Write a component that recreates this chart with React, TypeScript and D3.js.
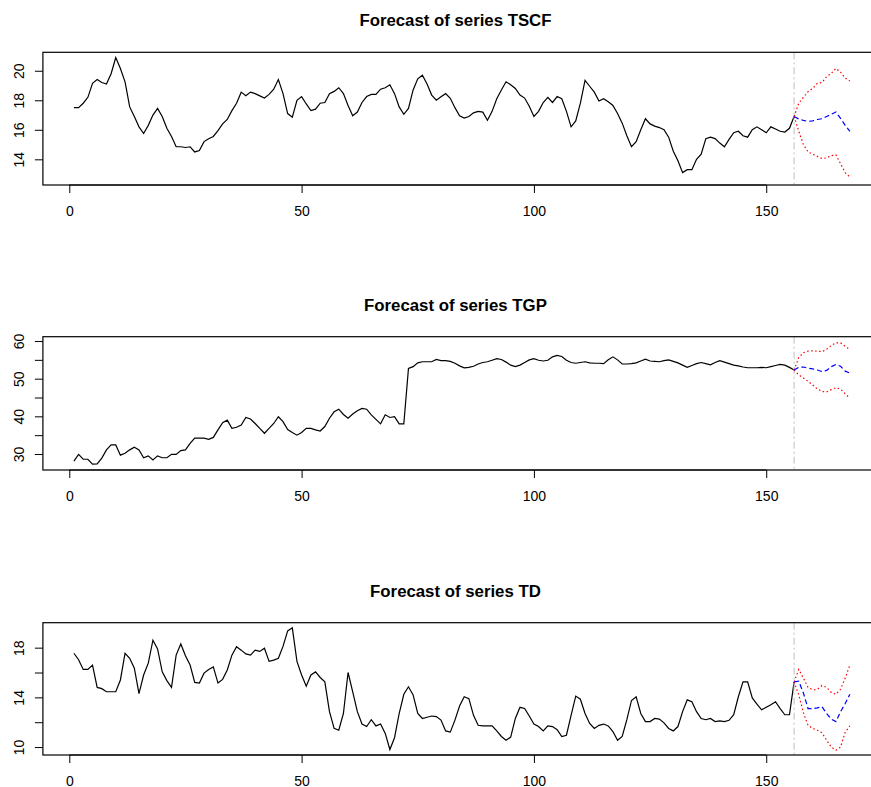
import React, { Component } from 'react';
import * as d3 from 'd3';

// observed series, t = 1..156
const tscf = [
  17.5, 17.5, 17.8, 18.2, 19.15, 19.4, 19.2, 19.1, 19.8, 20.9,
  20.15, 19.25, 17.55, 16.9, 16.2, 15.75, 16.3, 17.0, 17.45, 16.9,
  16.1, 15.55, 14.85, 14.85, 14.8, 14.85, 14.5, 14.6, 15.2, 15.4,
  15.55, 15.95, 16.4, 16.7, 17.3, 17.8, 18.55, 18.3, 18.55, 18.45,
  18.3, 18.15, 18.4, 18.75, 19.4, 18.45, 17.1, 16.85, 18.0, 18.25,
  17.75, 17.3, 17.4, 17.8, 17.85, 18.45, 18.6, 18.85, 18.45, 17.65,
  16.95, 17.2, 17.85, 18.25, 18.4, 18.4, 18.75, 18.85, 19.05, 18.45,
  17.55, 17.05, 17.45, 18.7, 19.45, 19.7, 19.1, 18.35, 18.0, 18.24,
  18.45, 18.13, 17.5, 16.95, 16.8, 16.9, 17.15, 17.25, 17.2, 16.65,
  17.25, 18.1, 18.7, 19.25, 19.05, 18.8, 18.35, 18.15, 17.6, 16.9,
  17.25, 17.85, 18.2, 17.85, 18.25, 18.1, 17.25, 16.2, 16.6, 17.8,
  19.35, 18.95, 18.55, 17.95, 18.1, 17.9, 17.65, 17.1, 16.45, 15.6,
  14.85, 15.2, 16.0, 16.75, 16.4, 16.25, 16.15, 16.0, 15.5, 14.55,
  13.9, 13.1, 13.3, 13.3, 14.0, 14.35, 15.4, 15.5, 15.4, 15.1,
  14.85, 15.35, 15.8, 15.9, 15.6, 15.5, 16.0, 16.2, 16.0, 15.8,
  16.2, 16.05, 15.9, 15.85, 16.1, 16.9
];
const tgp = [
  28.1, 29.9, 28.6, 28.6, 27.3, 27.35, 28.9, 31.1, 32.4, 32.4,
  29.7, 30.2, 31.1, 31.8, 31.1, 29.0, 29.5, 28.4, 29.5, 29.0,
  29.0, 29.9, 29.9, 30.9, 31.1, 32.8, 34.2, 34.2, 34.2, 33.9,
  34.4, 36.4, 38.3, 39.0, 36.8, 37.1, 37.7, 39.7, 39.3, 38.1,
  36.8, 35.5, 36.8, 38.1, 39.9, 38.6, 36.5, 35.7, 35.0, 35.7,
  36.8, 36.8, 36.4, 36.1, 37.3, 39.5, 41.2, 41.9, 40.5, 39.5,
  40.6, 41.5, 42.1, 41.9, 40.4, 39.2, 38.0, 40.4, 39.7, 39.9,
  38.0, 38.0, 52.7, 53.2, 54.2, 54.5, 54.5, 54.5, 55.1, 54.8,
  54.8, 54.6, 54.1, 53.4, 52.9, 53.0, 53.3, 53.9, 54.3, 54.5,
  54.9, 55.3, 55.1, 54.4, 53.6, 53.2, 53.6, 54.3, 55.0, 55.3,
  54.9, 54.7, 54.9, 55.8, 56.2, 55.9, 54.9, 54.3, 54.1, 54.3,
  54.5, 54.2, 54.1, 54.1, 54.0, 55.0, 55.8, 55.0, 53.9, 53.9,
  54.0, 54.2, 54.7, 55.2, 54.7, 54.6, 54.5, 54.8, 55.0, 54.6,
  54.2, 53.6, 53.0, 53.5, 54.0, 54.3, 54.0, 53.7, 54.3, 54.8,
  54.4, 54.0, 53.6, 53.4, 53.1, 52.9, 52.9, 52.9, 53.0, 52.9,
  53.2, 53.5, 53.8, 53.6, 53.0, 52.3
];
const td = [
  17.55, 17.03, 16.25, 16.25, 16.6, 14.8, 14.7, 14.45, 14.45, 14.45,
  15.4, 17.55, 17.15, 16.35, 14.3, 15.8, 16.75, 18.6, 17.9, 16.05,
  15.35, 14.8, 17.4, 18.3, 17.35, 16.6, 15.2, 15.15, 15.95, 16.25,
  16.45, 15.15, 15.45, 16.2, 17.4, 18.08, 17.8, 17.5, 17.4, 17.8,
  17.7, 17.95, 16.9, 17.0, 17.15, 18.1, 19.35, 19.6, 16.9, 15.8,
  14.9, 15.8, 16.05, 15.6, 15.25, 12.85, 11.5, 11.35, 12.7, 16.0,
  14.45, 12.85, 11.85, 11.65, 12.2, 11.7, 11.85, 11.1, 9.8, 10.75,
  12.7, 14.25, 14.85, 14.2, 12.7, 12.3, 12.4, 12.5, 12.45, 12.17,
  11.3, 11.2, 12.17, 13.3, 14.05, 13.9, 12.55, 11.75, 11.7, 11.7,
  11.7, 11.3, 10.85, 10.55, 10.8, 12.3, 13.2, 13.1, 12.5, 11.85,
  11.65, 11.3, 11.7, 11.65, 11.4, 10.85, 10.95, 12.55, 14.1, 13.85,
  12.7, 11.9, 11.5, 11.75, 11.85, 11.7, 11.25, 10.55, 10.85, 12.2,
  13.75, 14.05, 12.7, 12.05, 12.05, 12.3, 12.25, 11.95, 11.5, 11.3,
  11.65, 12.85, 13.8, 13.65, 12.85, 12.3, 12.2, 12.3, 12.05, 12.1,
  12.05, 12.15, 12.6, 14.05, 15.25, 15.25, 13.95, 13.45, 13.0, 13.2,
  13.4, 13.65, 13.1, 12.6, 12.6, 15.25
];

// forecasts, t = 157..168
const tscfFcst = [16.73, 16.64, 16.57, 16.6, 16.7, 16.75, 16.9, 17.05, 17.2, 16.77, 16.3, 15.9];
const tscfUpper = [17.8, 18.2, 18.58, 18.8, 19.15, 19.2, 19.6, 19.82, 20.16, 19.9, 19.5, 19.3];
const tscfLower = [15.9, 15.0, 14.5, 14.35, 14.2, 14.05, 14.1, 14.25, 14.3, 13.7, 13.1, 12.8];

const tgpFcst = [53.0, 53.1, 52.8, 52.6, 52.3, 51.9, 52.2, 53.2, 53.8, 53.3, 52.0, 51.5];
const tgpUpper = [55.6, 56.9, 57.3, 57.4, 57.3, 57.2, 57.8, 58.8, 59.5, 59.5, 58.6, 57.7];
const tgpLower = [51.0, 50.2, 49.3, 48.3, 47.3, 46.6, 46.5, 47.1, 47.6, 47.2, 46.0, 44.8];

const tdFcst = [15.3, 14.35, 13.1, 13.1, 13.15, 13.25, 12.7, 12.25, 12.05, 12.85, 13.5, 14.25];
const tdUpper = [16.25, 15.55, 14.8, 14.6, 14.65, 14.95, 14.8, 14.4, 14.25, 14.65, 15.55, 16.6];
const tdLower = [14.2, 12.75, 11.75, 11.5, 11.35, 11.15, 10.55, 10.0, 9.75, 10.0, 11.2, 11.7];

const xTicks = [0, 50, 100, 150];
const tscfTicks = [14, 16, 18, 20];
const tscfLabels = [14, 16, 18, 20];
const tgpTicks = [30, 35, 40, 45, 50, 55, 60];
const tgpLabels = [30, 40, 50, 60];
const tdTicks = [10, 12, 14, 16, 18];
const tdLabels = [10, 14, 18];

class ForecastChart extends Component {
  constructor(props) {
    super(props);
    this.width = 871;
    this.height = 787;
    this.svgRef = React.createRef();

    // panel layout: top/bottom of the box and the y limits shown
    this.panels = [
      { name: 'TSCF', obs: tscf, fcst: tscfFcst, upper: tscfUpper, lower: tscfLower,
        ticks: tscfTicks, labels: tscfLabels, ylim: [12.26, 21.25], top: 52.3, bottom: 185 },
      { name: 'TGP', obs: tgp, fcst: tgpFcst, upper: tgpUpper, lower: tgpLower,
        ticks: tgpTicks, labels: tgpLabels, ylim: [25.75, 61.15], top: 336.7, bottom: 470 },
      { name: 'TD', obs: td, fcst: tdFcst, upper: tdUpper, lower: tdLower,
        ticks: tdTicks, labels: tdLabels, ylim: [9.36, 20.01], top: 622.7, bottom: 755 },
    ];
  }

  componentDidMount() {
    this.drawChart();
  }

  drawChart() {
    let svg = d3.select(this.svgRef.current);
    svg.selectAll('*').remove();

    const font = "'Liberation Sans', Arial, Helvetica, sans-serif";
    let x = d3.scaleLinear().domain([-5.68, 174.68]).range([42.9, 880.9]);

    this.panels.forEach((p) => {
      let y = d3.scaleLinear().domain(p.ylim).range([p.bottom, p.top]);
      let g = svg.append('g');
      let n = p.obs.length;

      // title
      g.append('text')
        .attr('x', (42.9 + 868) / 2)
        .attr('y', p.top - 26)
        .attr('text-anchor', 'middle')
        .style('font-family', font)
        .style('font-weight', 'bold')
        .style('font-size', '16.8px')
        .text('Forecast of series ' + p.name);

      // x axis
      let xAxis = g.append('g')
        .attr('transform', 'translate(0,' + p.bottom + ')')
        .call(d3.axisBottom(x).tickValues(xTicks).tickSize(8).tickFormat(d3.format('d')));
      xAxis.select('.domain').remove();
      xAxis.selectAll('line').attr('stroke', '#000');
      xAxis.selectAll('text')
        .attr('y', 30.5).attr('dy', 0)
        .attr('fill', '#000')
        .style('font-family', font).style('font-size', '14px');
      xAxis.append('line')
        .attr('x1', x(xTicks[0])).attr('x2', x(xTicks[xTicks.length - 1]))
        .attr('y1', 0).attr('y2', 0).attr('stroke', '#000');

      // y axis
      let yAxis = g.append('g')
        .attr('transform', 'translate(42.9,0)')
        .call(d3.axisLeft(y).tickValues(p.ticks).tickSize(8)
          .tickFormat(d => (p.labels.indexOf(d) >= 0 ? String(d) : '')));
      yAxis.select('.domain').remove();
      yAxis.selectAll('line').attr('stroke', '#000');
      yAxis.selectAll('text')
        .attr('x', 0).attr('y', -19).attr('dy', 0)
        .attr('transform', 'rotate(-90)')
        .attr('text-anchor', 'middle')
        .attr('fill', '#000')
        .style('font-family', font).style('font-size', '14px');

      // observed series
      let line = d3.line().x(d => x(d[0])).y(d => y(d[1]));
      let obsPts = p.obs.map((v, i) => [i + 1, v]);
      g.append('path')
        .attr('d', line(obsPts))
        .attr('fill', 'none')
        .attr('stroke', '#000')
        .attr('stroke-width', 1.2);

      // end of sample marker
      g.append('line')
        .attr('x1', x(n)).attr('x2', x(n))
        .attr('y1', p.top).attr('y2', p.bottom)
        .attr('stroke', '#bebebe')
        .attr('stroke-width', 1)
        .attr('stroke-dasharray', '7,3,2,3');

      // forecast + interval, joined to last observation
      let last = [n, p.obs[n - 1]];
      let fc = (arr) => [last].concat(arr.map((v, i) => [n + i + 1, v]));

      g.append('path')
        .attr('d', line(fc(p.upper)))
        .attr('fill', 'none').attr('stroke', '#ff0000')
        .attr('stroke-width', 1.2).attr('stroke-dasharray', '1.5,2.5');
      g.append('path')
        .attr('d', line(fc(p.lower)))
        .attr('fill', 'none').attr('stroke', '#ff0000')
        .attr('stroke-width', 1.2).attr('stroke-dasharray', '1.5,2.5');
      g.append('path')
        .attr('d', line(fc(p.fcst)))
        .attr('fill', 'none').attr('stroke', '#0000ff')
        .attr('stroke-width', 1.2).attr('stroke-dasharray', '5,3');

      // box
      g.append('rect')
        .attr('x', 42.9).attr('y', p.top)
        .attr('width', 880.9 - 42.9).attr('height', p.bottom - p.top)
        .attr('fill', 'none').attr('stroke', '#000').attr('stroke-width', 1.2);
    });
  }

  render() {
    return (
      <svg
        ref={this.svgRef}
        width={this.width}
        height={this.height}
        style={{ position: 'absolute', left: 0, top: 0, background: '#fff' }}
      />
    );
  }
}

export default function App() {
  return <ForecastChart />;
}
